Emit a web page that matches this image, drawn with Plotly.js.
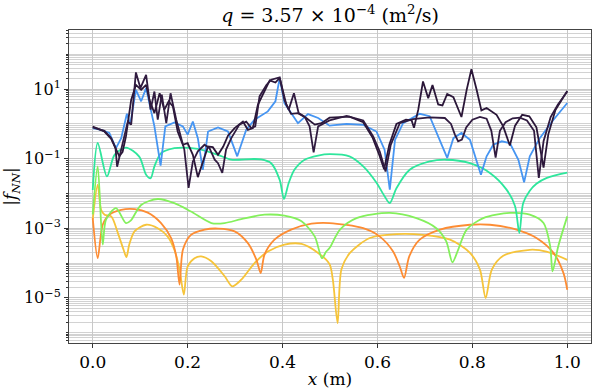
<!DOCTYPE html>
<html>
<head>
<meta charset="utf-8">
<script src="https://cdn.plot.ly/plotly-3.0.1.min.js"></script>
<style>
  html, body { margin: 0; padding: 0; background: #fff; }
  #chart { width: 598px; height: 392px; }
</style>
</head>
<body>
<div id="chart"></div>
<script>
// |f_NN| along x

// dark purple, first run
const xDarkA = [0, 0.0246, 0.039, 0.048, 0.0514, 0.058, 0.065, 0.074, 0.081, 0.091, 0.1005, 0.1125, 0.122, 0.130, 0.137, 0.1455, 0.155, 0.164, 0.176, 0.186, 0.193, 0.202, 0.211, 0.2215, 0.2355, 0.246, 0.257, 0.264, 0.273, 0.281, 0.292, 0.309, 0.3235, 0.334, 0.3425, 0.3515, 0.366, 0.376, 0.394, 0.404, 0.413, 0.424, 0.434, 0.4465, 0.457, 0.4655, 0.475, 0.499, 0.535, 0.570, 0.591, 0.605, 0.617, 0.628, 0.647, 0.675, 0.710, 0.742, 0.755, 0.763, 0.770, 0.778, 0.787, 0.800, 0.816, 0.830, 0.840, 0.849, 0.858, 0.870, 0.885, 0.900, 0.915, 0.930, 0.940, 0.950, 0.965, 0.980, 1.0];
const yDarkA = [7.94e-1, 6.31e-1, 3.89e-1, 2.00e-1, 5.89e-2, 1.45e-1, 3.47e-1, 1.17, 9.55e-1, 30.2, 10.7, 25.7, 2.57, 8.51, 1.32, 6.92, 1.05, 7.59, 1.32, 3.89e-1, 1.82e-1, 1.45e-2, 8.32e-2, 1.62e-1, 2.51e-1, 2.00e-1, 9.33e-2, 7.41e-2, 3.89e-2, 1.82e-1, 3.89e-1, 9.55e-1, 1.17, 7.59e-1, 8.51e-1, 6.17, 13.2, 18.6, 21.9, 4.90, 2.57, 7.59, 2.04, 1.62, 8.51e-1, 1.51e-1, 8.51e-1, 1.26, 1.70, 1.26, 4.37e-1, 1.58e-1, 4.27e-2, 2.51e-1, 1.05, 1.38, 1.55, 1.48, 1.00, 5.01e-1, 3.16e-1, 3.55e-1, 7.94e-1, 1.32, 1.58, 1.41, 6.31e-1, 1.07e-1, 6.31e-1, 1.12, 1.45, 1.51, 1.26, 6.31e-1, 2.82e-2, 3.16e-1, 1.58, 3.55, 8.51];

// dark purple, second run
const xDarkB = [0, 0.0246, 0.039, 0.048, 0.056, 0.063, 0.070, 0.081, 0.091, 0.102, 0.1125, 0.1195, 0.130, 0.141, 0.151, 0.160, 0.169, 0.179, 0.190, 0.200, 0.211, 0.2215, 0.232, 0.243, 0.253, 0.264, 0.275, 0.285, 0.299, 0.3165, 0.327, 0.3375, 0.348, 0.3625, 0.373, 0.385, 0.394, 0.408, 0.418, 0.4325, 0.450, 0.468, 0.482, 0.499, 0.541, 0.570, 0.590, 0.604, 0.614, 0.625, 0.640, 0.660, 0.672, 0.677, 0.686, 0.696, 0.707, 0.716, 0.728, 0.737, 0.747, 0.760, 0.777, 0.788, 0.798, 0.809, 0.819, 0.830, 0.851, 0.865, 0.879, 0.890, 0.905, 0.920, 0.935, 0.950, 0.960, 0.975, 1.0];
const yDarkB = [8.32e-1, 6.03e-1, 3.72e-1, 2.00e-1, 1.17e-1, 1.58e-1, 4.37e-1, 4.90, 13.2, 9.55, 13.2, 4.90, 2.04, 7.59, 2.57, 4.47, 3.16, 6.03e-1, 2.51e-1, 2.82e-1, 1.29e-1, 2.95e-2, 7.41e-2, 2.24e-1, 2.14e-1, 1.29e-1, 2.24e-1, 4.57e-1, 7.59e-1, 1.17, 6.76e-1, 7.59e-1, 3.55, 9.55, 17.8, 15.5, 20.9, 3.55, 1.95, 2.04, 1.48, 9.55e-1, 1.05, 1.51, 1.62, 1.12, 3.98e-1, 1.26e-1, 5.01e-2, 2.51e-1, 1.00, 1.32, 1.26, 7.76e-1, 2.57, 16.6, 5.50, 13.2, 3.63, 3.39, 7.24, 5.89, 1.58, 9.55, 37.2, 9.55, 2.45, 2.88, 1.82, 8.51e-1, 2.40e-1, 8.91e-1, 1.82, 1.66, 7.94e-1, 5.50e-2, 5.01e-1, 2.51, 8.91];

// blue
const xBlue = [0, 0.0176, 0.035, 0.049, 0.060, 0.072, 0.079, 0.091, 0.102, 0.1125, 0.130, 0.143, 0.153, 0.172, 0.190, 0.200, 0.211, 0.2215, 0.232, 0.243, 0.264, 0.285, 0.3045, 0.3235, 0.341, 0.369, 0.385, 0.394, 0.404, 0.418, 0.4325, 0.4536, 0.475, 0.499, 0.535, 0.570, 0.598, 0.615, 0.626, 0.637, 0.654, 0.689, 0.710, 0.731, 0.747, 0.760, 0.777, 0.795, 0.809, 0.818, 0.830, 0.844, 0.862, 0.879, 0.897, 0.909, 0.921, 0.942, 0.971, 1.0];
const yBlue = [7.59e-1, 6.76e-1, 5.50e-1, 2.00e-1, 3.89e-1, 1.95, 9.55e-1, 9.55, 4.47, 10.7, 8.51e-1, 6.31e-2, 8.51e-1, 1.10, 8.51e-1, 4.90e-1, 1.17, 3.89e-1, 4.79e-2, 6.03e-1, 7.94e-1, 6.03e-1, 1.17e-1, 6.76e-1, 1.32, 2.29, 4.47, 20.9, 3.98, 2.04, 1.05, 1.91, 1.48, 8.91e-1, 1.00, 9.33e-1, 6.03e-1, 1.82e-1, 1.29e-2, 3.47e-1, 1.05, 1.95, 1.66, 3.47e-1, 1.05e-1, 3.89e-1, 5.50e-1, 3.47e-1, 9.33e-2, 3.47e-2, 1.17e-1, 2.51e-1, 3.16e-1, 2.82e-1, 9.33e-2, 2.09e-2, 1.17e-1, 3.89e-1, 1.32, 3.98];

// teal
const xTeal = [0, 0.0105, 0.030, 0.046, 0.070, 0.098, 0.1125, 0.122, 0.130, 0.144, 0.172, 0.193, 0.2215, 0.264, 0.292, 0.334, 0.355, 0.376, 0.394, 0.403, 0.413, 0.425, 0.4465, 0.475, 0.499, 0.541, 0.570, 0.598, 0.615, 0.626, 0.640, 0.668, 0.710, 0.745, 0.795, 0.837, 0.872, 0.890, 0.899, 0.907, 0.921, 0.935, 0.957, 1.0];
const yTeal = [1.26e-2, 2.82e-1, 3.09e-2, 1.29e-1, 2.09e-1, 1.15e-1, 3.47e-2, 2.75e-2, 6.03e-2, 1.45e-1, 2.00e-1, 2.09e-1, 1.91e-1, 1.29e-1, 9.33e-2, 9.77e-2, 9.55e-2, 7.41e-2, 2.45e-2, 6.92e-3, 2.00e-2, 4.79e-2, 9.33e-2, 1.23e-1, 1.35e-1, 1.17e-1, 6.03e-2, 2.04e-2, 8.32e-3, 5.25e-3, 1.41e-2, 4.79e-2, 8.32e-2, 9.33e-2, 7.41e-2, 3.89e-2, 1.29e-2, 4.27e-3, 7.24e-4, 5.25e-3, 1.20e-2, 1.91e-2, 2.82e-2, 3.98e-2];

// light green
const xGreen = [0, 0.0105, 0.021, 0.028, 0.049, 0.070, 0.080, 0.102, 0.137, 0.172, 0.207, 0.250, 0.278, 0.313, 0.362, 0.404, 0.440, 0.468, 0.483, 0.492, 0.499, 0.521, 0.556, 0.626, 0.682, 0.724, 0.745, 0.758, 0.770, 0.788, 0.823, 0.879, 0.921, 0.950, 0.964, 0.969, 0.981, 1.0];
const yGreen = [2.51e-3, 6.03e-2, 3.39e-4, 1.78e-3, 3.80e-3, 1.41e-3, 1.66e-3, 4.68e-3, 6.92e-3, 5.25e-3, 3.02e-3, 1.41e-3, 1.41e-3, 1.82e-3, 2.45e-3, 2.29e-3, 1.58e-3, 5.75e-4, 1.38e-4, 2.14e-4, 2.69e-4, 9.12e-4, 1.95e-3, 2.75e-3, 1.95e-3, 1.00e-3, 4.17e-4, 1.05e-4, 2.40e-4, 9.12e-4, 1.95e-3, 2.75e-3, 2.45e-3, 1.41e-3, 3.02e-4, 5.75e-5, 3.02e-4, 2.19e-3];

// orange
const xOrange = [0, 0.0105, 0.021, 0.035, 0.060, 0.088, 0.116, 0.144, 0.165, 0.176, 0.183, 0.190, 0.207, 0.236, 0.264, 0.299, 0.327, 0.345, 0.354, 0.362, 0.383, 0.418, 0.461, 0.499, 0.570, 0.605, 0.633, 0.647, 0.656, 0.667, 0.689, 0.732, 0.795, 0.837, 0.893, 0.935, 0.971, 0.992, 1.0];
const yOrange = [1.95e-3, 1.38e-4, 1.26e-3, 2.45e-3, 3.39e-3, 3.55e-3, 2.82e-3, 1.41e-3, 5.25e-4, 1.55e-4, 2.40e-5, 2.40e-4, 6.46e-4, 9.12e-4, 9.77e-4, 8.13e-4, 3.72e-4, 1.23e-4, 5.13e-5, 1.74e-4, 4.68e-4, 9.12e-4, 1.35e-3, 1.41e-3, 1.00e-3, 5.75e-4, 2.14e-4, 7.94e-5, 3.72e-5, 1.55e-4, 4.68e-4, 9.12e-4, 1.26e-3, 1.26e-3, 9.12e-4, 5.25e-4, 1.95e-4, 5.13e-5, 1.70e-5];

// yellow
const xYellow = [0, 0.0105, 0.0176, 0.025, 0.039, 0.053, 0.065, 0.071, 0.077, 0.088, 0.1125, 0.137, 0.158, 0.172, 0.183, 0.192, 0.200, 0.2145, 0.2285, 0.250, 0.278, 0.294, 0.313, 0.341, 0.369, 0.404, 0.440, 0.475, 0.499, 0.506, 0.516, 0.524, 0.542, 0.584, 0.640, 0.696, 0.753, 0.795, 0.816, 0.828, 0.841, 0.865, 0.921, 0.956, 1.0];
const yYellow = [1.78e-3, 1.78e-2, 3.39e-3, 2.45e-3, 2.19e-3, 7.24e-4, 2.40e-4, 1.48e-4, 3.39e-4, 8.13e-4, 1.26e-3, 1.00e-3, 5.75e-4, 2.40e-4, 6.46e-5, 1.23e-5, 7.94e-5, 1.38e-4, 1.55e-4, 1.12e-4, 4.17e-5, 2.14e-5, 3.31e-5, 1.00e-4, 2.14e-4, 3.39e-4, 3.55e-4, 1.95e-4, 9.33e-5, 3.31e-5, 1.86e-6, 6.46e-5, 1.95e-4, 5.25e-4, 6.76e-4, 6.46e-4, 4.68e-4, 1.95e-4, 6.46e-5, 9.77e-6, 6.46e-5, 1.62e-4, 2.40e-4, 2.14e-4, 1.23e-4];

// axis ticks
const xTickVals = [0, 0.2, 0.4, 0.6, 0.8, 1.0];
const xTickText = ['0.0', '0.2', '0.4', '0.6', '0.8', '1.0'];
const yTickVals = [1e-5, 1e-3, 1e-1, 10];
const yTickText = ['10<sup>−5</sup>', '10<sup>−3</sup>', '10<sup>−1</sup>', '10<sup>1</sup>'];

function line(x, y, color, smooth) {
    return {
        x: x,
        y: y,
        type: 'scatter',
        mode: 'lines',
        line: smooth ? { color: color, width: 1.8, shape: 'spline', smoothing: 0.8 }
                     : { color: color, width: 1.8 },
        hoverinfo: 'skip',
        showlegend: false
    };
}

const traces = [
    line(xYellow, yYellow, '#f6c43a', true),
    line(xOrange, yOrange, '#fd8c33', true),
    line(xGreen, yGreen, '#84f05c', true),
    line(xTeal, yTeal, '#2ee69c', true),
    line(xBlue, yBlue, '#4695f2', false),
    line(xDarkB, yDarkB, '#2a1638', false),
    line(xDarkA, yDarkA, '#301b40', false)
];

const font = '"DejaVu Serif", serif';

const layout = {
    width: 598,
    height: 392,
    margin: { l: 69, r: 7, t: 30, b: 49 },
    paper_bgcolor: '#ffffff',
    plot_bgcolor: '#ffffff',
    font: { family: font, size: 17, color: '#000' },
    title: {
        text: '<i>q</i> = 3.57 × 10<sup>−4</sup> (m<sup>2</sup>/s)',
        font: { family: font, size: 19, color: '#000' },
        x: 0.552,
        xanchor: 'center',
        y: 0.96,
        yanchor: 'middle'
    },
    xaxis: {
        range: [-0.05, 1.05],
        tickvals: xTickVals,
        ticktext: xTickText,
        ticks: 'outside',
        ticklen: 4,
        tickcolor: '#333',
        tickfont: { family: font, size: 17 },
        showgrid: true,
        gridcolor: '#c8c8c8',
        gridwidth: 1,
        zeroline: false,
        showline: true,
        linecolor: '#444',
        linewidth: 1,
        mirror: true,
        title: { text: '<i>x</i> (m)', font: { family: font, size: 17 }, standoff: 1 }
    },
    yaxis: {
        type: 'log',
        range: [-6.3, 2.7],
        tickvals: yTickVals,
        ticktext: yTickText,
        ticks: 'outside',
        ticklen: 4,
        tickcolor: '#333',
        tickfont: { family: font, size: 16 },
        showgrid: true,
        gridcolor: '#c8c8c8',
        gridwidth: 1,
        zeroline: false,
        showline: true,
        linecolor: '#444',
        linewidth: 1,
        mirror: true,
        minor: {
            dtick: 'D1',
            showgrid: true,
            gridcolor: '#d2d2d2',
            gridwidth: 1,
            ticks: 'outside',
            ticklen: 2,
            tickcolor: '#333'
        },
        title: { text: '|<i>f<sub>NN</sub></i>|', font: { family: font, size: 17 }, standoff: 3 }
    }
};

Plotly.newPlot('chart', traces, layout, { staticPlot: true, displayModeBar: false });
</script>
</body>
</html>
